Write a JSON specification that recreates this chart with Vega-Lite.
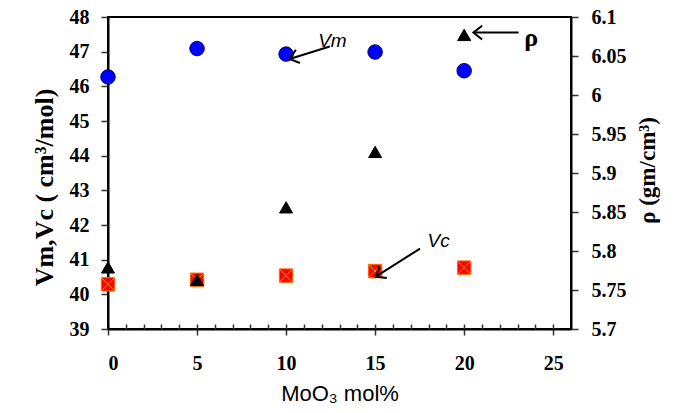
{
  "$schema": "https://vega.github.io/schema/vega-lite/v6.json",
  "width": 463,
  "height": 312,
  "autosize": {"type": "none"},
  "padding": {"left": 108, "top": 17, "right": 114, "bottom": 84},
  "background": "white",
  "config": {
    "view": {"stroke": "black", "strokeWidth": 2},
    "axis": {"grid": false, "domainColor": "black", "domainWidth": 2, "tickColor": "#333333", "tickWidth": 1.5, "labelColor": "black", "labelFont": "Liberation Serif", "labelFontWeight": "bold", "labelFontSize": 20, "labelOverlap": false, "titleColor": "black"}
  },
  "datasets": {
    "main": [
      {"mol": 0, "Vm": 46.27, "Vc": 40.29, "rho": 5.779},
      {"mol": 5, "Vm": 47.09, "Vc": 40.42, "rho": 5.763},
      {"mol": 10, "Vm": 46.93, "Vc": 40.54, "rho": 5.856},
      {"mol": 15, "Vm": 46.99, "Vc": 40.67, "rho": 5.927},
      {"mol": 20, "Vm": 46.45, "Vc": 40.77, "rho": 6.077}
    ],
    "notes": [
      {"name": "Vm", "tx": 12.6, "ty": 47.32, "ax": 12.45, "ay": 47.15, "bx": 10.2, "by": 46.79},
      {"name": "Vc", "tx": 18.57, "ty": 41.54, "ax": 17.52, "ay": 41.32, "bx": 15.04, "by": 40.51},
      {"name": "ρ", "tx": 23.76, "ty": 47.38, "ax": 23.06, "ay": 47.55, "bx": 20.52, "by": 47.55}
    ]
  },
  "layer": [
    {
      "data": {"name": "main"},
      "mark": {"type": "point", "shape": "circle", "filled": true, "size": 210, "fill": "#0000FF", "stroke": "#000066", "strokeWidth": 1, "opacity": 1},
      "encoding": {
        "x": {
          "field": "mol", "type": "quantitative",
          "scale": {"domain": [0, 25]},
          "axis": {"values": [0, 5, 10, 15, 20, 25], "tickSize": 6, "labelPadding": 18, "labelFont": "Liberation Serif", "labelFontWeight": "bold", "labelFontSize": 20, "title": "MoO₃ mol%", "titleFont": "Liberation Sans", "titleFontWeight": "normal", "titleFontSize": 22, "titlePadding": 10}
        },
        "y": {
          "field": "Vm", "type": "quantitative",
          "scale": {"domain": [39, 48]},
          "axis": {"values": [39, 40, 41, 42, 43, 44, 45, 46, 47, 48], "tickSize": 7, "labelPadding": 12, "labelFont": "Liberation Serif", "labelFontWeight": "bold", "labelFontSize": 20, "title": "Vm,Vc ( cm³/mol)", "titleFont": "Liberation Serif", "titleFontWeight": "bold", "titleFontSize": 26, "titlePadding": 12, "titleY": 170}
        }
      }
    },
    {
      "data": {"name": "main"},
      "mark": {"type": "point", "shape": "square", "filled": true, "size": 180, "fill": "#FF0000", "stroke": "#FF6600", "strokeWidth": 1, "opacity": 1},
      "encoding": {
        "x": {"field": "mol", "type": "quantitative", "axis": null},
        "y": {"field": "Vc", "type": "quantitative", "scale": {"domain": [39, 48]}, "axis": null}
      }
    },
    {
      "data": {"name": "main"},
      "mark": {"type": "point", "shape": "M-1,-1L1,1M1,-1L-1,1", "filled": false, "size": 160, "stroke": "#FFA500", "strokeWidth": 1, "opacity": 1},
      "encoding": {
        "x": {"field": "mol", "type": "quantitative", "axis": null},
        "y": {"field": "Vc", "type": "quantitative", "scale": {"domain": [39, 48]}, "axis": null}
      }
    },
    {
      "data": {"name": "notes"},
      "mark": {"type": "rule", "stroke": "black", "strokeWidth": 2},
      "encoding": {
        "x": {"field": "ax", "type": "quantitative", "axis": null},
        "y": {"field": "ay", "type": "quantitative", "scale": {"domain": [39, 48]}, "axis": null},
        "x2": {"field": "bx"},
        "y2": {"field": "by"}
      }
    },
    {
      "data": {"name": "notes"},
      "mark": {"type": "point", "shape": "M1,-0.8L0,0L1,0.8", "filled": false, "size": 300, "stroke": "black", "strokeWidth": 2, "opacity": 1},
      "encoding": {
        "x": {"field": "bx", "type": "quantitative", "axis": null},
        "y": {"field": "by", "type": "quantitative", "scale": {"domain": [39, 48]}, "axis": null},
        "angle": {"condition": [{"test": "datum.name === 'Vm'", "value": 343}, {"test": "datum.name === 'Vc'", "value": 328}], "value": 0}
      }
    },
    {
      "data": {"name": "notes"},
      "transform": [{"filter": "datum.name !== 'ρ'"}],
      "mark": {"type": "text", "font": "Liberation Sans", "fontStyle": "italic", "fontSize": 19, "color": "black", "align": "center", "baseline": "middle"},
      "encoding": {
        "x": {"field": "tx", "type": "quantitative", "axis": null},
        "y": {"field": "ty", "type": "quantitative", "scale": {"domain": [39, 48]}, "axis": null},
        "text": {"field": "name"}
      }
    },
    {
      "data": {"name": "notes"},
      "transform": [{"filter": "datum.name === 'ρ'"}],
      "mark": {"type": "text", "font": "Liberation Serif", "fontWeight": "bold", "fontSize": 26, "color": "black", "align": "center", "baseline": "middle"},
      "encoding": {
        "x": {"field": "tx", "type": "quantitative", "axis": null},
        "y": {"field": "ty", "type": "quantitative", "scale": {"domain": [39, 48]}, "axis": null},
        "text": {"field": "name"}
      }
    },
    {
      "data": {"name": "main"},
      "mark": {"type": "point", "shape": "triangle-up", "filled": true, "size": 170, "fill": "black", "stroke": "black", "strokeWidth": 1, "opacity": 1},
      "encoding": {
        "x": {
          "field": "mol", "type": "quantitative",
          "axis": {"orient": "top", "offset": -312, "values": [0, 1, 2, 3, 4, 5, 6, 7, 8, 9, 10, 11, 12, 13, 14, 15, 16, 17, 18, 19, 20, 21, 22, 23, 24, 25], "labels": false, "domain": false, "tickSize": 5, "title": null}
        },
        "y": {
          "field": "rho", "type": "quantitative",
          "scale": {"domain": [5.7, 6.1]},
          "axis": {"orient": "right", "values": [5.7, 5.75, 5.8, 5.85, 5.9, 5.95, 6.0, 6.05, 6.1], "format": ".2~f", "tickSize": 7, "labelPadding": 13, "labelFont": "Liberation Serif", "labelFontWeight": "bold", "labelFontSize": 20, "title": "ρ (gm/cm³)", "titleAngle": 270, "titleBaseline": "top", "titleFont": "Liberation Serif", "titleFontWeight": "bold", "titleFontSize": 23, "titlePadding": 10, "titleY": 153}
        }
      }
    }
  ],
  "resolve": {"scale": {"y": "independent"}, "axis": {"x": "independent", "y": "independent"}}
}
